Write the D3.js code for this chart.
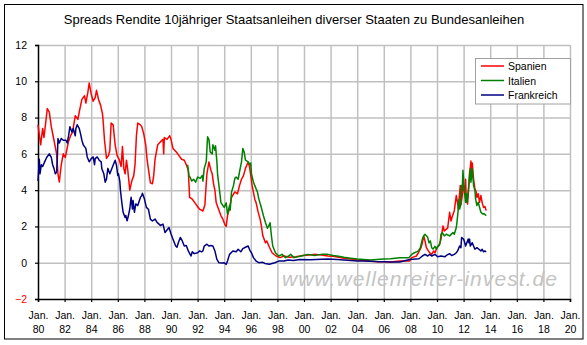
<!DOCTYPE html>
<html><head><meta charset="utf-8">
<script src="https://cdn.jsdelivr.net/npm/d3@7"></script>
<style>
html,body{margin:0;padding:0;background:#fff;}
svg text{font-family:"Liberation Sans",Arial,sans-serif;}
</style>
</head><body>
<svg id="chart" width="587" height="345"></svg>
<script>
// ---------- DATA (decimal year, spread in %-points) ----------
const title = "Spreads Rendite 10jähriger Staatsanleihen diverser Staaten zu Bundesanleihen";
const seriesNames = ["Spanien", "Italien", "Frankreich"];
const seriesColors = ["#ff0000", "#008000", "#000080"];
const xTickYears = [1980,1982,1984,1986,1988,1990,1992,1994,1996,1998,2000,2002,2004,2006,2008,2010,2012,2014,2016,2018,2020];
const xTickMonth = "Jan.";
const yTickValues = [-2,0,2,4,6,8,10,12];
const watermark = "www.wellenreiter-invest.de";

const spanien = [
[1980.0,7.6],[1980.2,6.5],[1980.35,7.4],[1980.45,6.9],[1980.7,8.5],[1980.85,8.3],[1981.0,7.5],[1981.2,6.75],[1981.4,6.0],[1981.5,4.9],[1981.6,4.45],[1981.75,5.4],[1981.9,6.0],[1982.05,5.8],[1982.3,6.7],[1982.45,7.0],[1982.6,7.2],[1982.8,8.1],[1983.0,7.9],[1983.1,8.3],[1983.3,9.0],[1983.5,9.2],[1983.6,8.8],[1983.75,9.4],[1983.85,9.9],[1984.0,9.3],[1984.15,8.9],[1984.3,9.1],[1984.4,9.5],[1984.55,9.0],[1984.7,8.7],[1984.85,8.2],[1984.9,7.8],[1985.0,6.75],[1985.15,5.75],[1985.3,5.9],[1985.4,6.2],[1985.5,7.7],[1985.65,7.6],[1985.8,6.5],[1985.95,5.9],[1986.1,5.7],[1986.25,5.3],[1986.35,6.4],[1986.45,5.2],[1986.55,4.9],[1986.65,5.65],[1986.75,5.1],[1986.9,4.0],[1987.05,4.5],[1987.2,4.8],[1987.3,5.45],[1987.4,7.0],[1987.5,7.7],[1987.7,7.6],[1987.8,7.5],[1987.95,7.1],[1988.1,6.5],[1988.2,5.7],[1988.45,4.4],[1988.6,4.35],[1988.7,4.8],[1988.8,5.7],[1989.0,6.5],[1989.25,6.7],[1989.4,6.8],[1989.45,6.0],[1989.5,6.9],[1989.7,6.8],[1989.9,7.0],[1990.0,6.8],[1990.15,6.3],[1990.4,6.1],[1990.6,5.9],[1990.8,5.7],[1991.0,5.65],[1991.15,5.4],[1991.3,5.1],[1991.4,3.6],[1991.6,3.5],[1991.8,3.3],[1992.0,3.1],[1992.15,2.95],[1992.4,2.85],[1992.55,3.2],[1992.6,3.8],[1992.7,4.9],[1992.85,5.55],[1993.0,5.1],[1993.1,4.9],[1993.2,4.35],[1993.3,4.0],[1993.4,3.3],[1993.6,2.9],[1993.75,2.6],[1993.9,2.4],[1994.05,2.1],[1994.15,2.0],[1994.25,2.6],[1994.4,3.0],[1994.55,3.6],[1994.8,3.9],[1995.0,3.8],[1995.15,4.25],[1995.3,4.6],[1995.45,4.8],[1995.6,5.2],[1995.8,5.55],[1995.9,5.3],[1996.0,4.8],[1996.1,4.25],[1996.3,3.5],[1996.4,3.3],[1996.55,2.8],[1996.7,2.4],[1996.8,2.0],[1996.9,1.5],[1997.1,1.1],[1997.2,1.2],[1997.4,0.85],[1997.6,0.55],[1997.9,0.37],[1998.2,0.28],[1998.5,0.37],[1998.9,0.3],[1999.4,0.33],[1999.9,0.4],[2000.4,0.42],[2000.9,0.46],[2001.3,0.42],[2001.8,0.37],[2002.2,0.35],[2002.6,0.3],[2003.0,0.25],[2003.5,0.2],[2004.0,0.15],[2004.5,0.12],[2005.0,0.08],[2005.5,0.05],[2006.0,0.05],[2006.5,0.04],[2007.2,0.09],[2007.95,0.1],[2008.1,0.28],[2008.45,0.37],[2008.6,0.55],[2008.8,0.83],[2008.9,1.1],[2009.0,1.48],[2009.1,1.2],[2009.2,0.83],[2009.35,0.65],[2009.45,0.55],[2009.6,0.46],[2009.75,0.65],[2009.85,0.55],[2010.0,0.83],[2010.15,0.95],[2010.3,1.3],[2010.45,2.03],[2010.55,1.75],[2010.7,1.85],[2010.8,1.9],[2010.95,2.78],[2011.05,2.3],[2011.15,2.55],[2011.3,2.87],[2011.45,3.7],[2011.55,3.3],[2011.6,2.96],[2011.75,4.26],[2011.8,3.2],[2011.9,3.7],[2012.0,4.26],[2012.1,3.8],[2012.15,4.6],[2012.2,3.5],[2012.3,3.24],[2012.4,4.26],[2012.45,5.0],[2012.5,5.2],[2012.55,5.6],[2012.6,4.8],[2012.65,5.5],[2012.75,4.6],[2012.85,4.07],[2012.95,3.9],[2013.0,3.6],[2013.1,3.8],[2013.2,3.33],[2013.3,3.7],[2013.4,3.3],[2013.5,3.05],[2013.6,3.1],[2013.7,2.87]
];

const italien = [
[1991.25,5.4],[1991.35,4.8],[1991.45,4.7],[1991.55,4.5],[1991.7,4.6],[1991.85,4.44],[1992.0,4.72],[1992.2,4.65],[1992.35,4.81],[1992.4,4.5],[1992.5,5.2],[1992.65,5.56],[1992.75,6.94],[1992.85,6.8],[1992.95,6.1],[1993.1,6.0],[1993.15,6.5],[1993.3,6.2],[1993.35,6.45],[1993.45,5.56],[1993.5,4.9],[1993.65,3.98],[1993.75,3.33],[1993.9,3.15],[1994.0,3.05],[1994.15,3.3],[1994.25,2.68],[1994.4,3.15],[1994.45,2.9],[1994.55,3.89],[1994.7,4.26],[1994.8,4.65],[1994.9,4.72],[1995.05,4.6],[1995.15,5.0],[1995.3,5.56],[1995.4,6.3],[1995.5,6.1],[1995.6,5.65],[1995.8,5.56],[1995.95,5.4],[1996.0,5.5],[1996.05,4.9],[1996.2,4.44],[1996.4,4.07],[1996.5,3.9],[1996.6,3.52],[1996.75,3.15],[1996.95,2.59],[1997.1,2.22],[1997.25,1.9],[1997.35,2.03],[1997.45,2.2],[1997.55,1.48],[1997.65,0.92],[1997.85,0.55],[1998.1,0.37],[1998.35,0.46],[1998.6,0.28],[1998.85,0.37],[1999.0,0.46],[1999.25,0.28],[1999.8,0.37],[2000.3,0.46],[2000.8,0.4],[2001.3,0.46],[2001.8,0.46],[2002.2,0.4],[2002.6,0.35],[2003.0,0.3],[2003.5,0.25],[2004.0,0.2],[2004.5,0.18],[2005.0,0.15],[2005.5,0.18],[2006.0,0.2],[2006.5,0.22],[2007.2,0.28],[2007.9,0.28],[2008.1,0.46],[2008.3,0.55],[2008.45,0.6],[2008.6,0.65],[2008.75,0.83],[2008.9,1.3],[2009.0,1.48],[2009.1,1.57],[2009.2,1.48],[2009.3,1.4],[2009.4,1.1],[2009.5,1.2],[2009.6,0.83],[2009.7,0.75],[2009.85,0.9],[2009.95,0.75],[2010.05,0.9],[2010.2,1.0],[2010.25,1.2],[2010.3,1.57],[2010.4,1.66],[2010.55,1.48],[2010.7,1.57],[2010.95,1.48],[2011.2,1.66],[2011.3,1.57],[2011.45,1.94],[2011.5,2.22],[2011.6,2.96],[2011.65,3.5],[2011.7,2.96],[2011.8,3.24],[2011.85,4.26],[2011.9,4.0],[2011.95,5.09],[2012.05,4.0],[2012.15,3.33],[2012.2,3.8],[2012.25,3.33],[2012.35,3.98],[2012.45,4.81],[2012.5,5.18],[2012.55,4.44],[2012.65,5.18],[2012.75,4.26],[2012.85,3.98],[2012.9,3.52],[2013.0,3.15],[2013.1,3.33],[2013.2,3.05],[2013.3,2.78],[2013.45,2.68],[2013.55,2.7],[2013.7,2.59]
];

const frankreich = [
[1980.0,4.5],[1980.1,5.7],[1980.15,4.9],[1980.25,5.4],[1980.35,5.3],[1980.5,5.56],[1980.65,5.8],[1980.85,6.0],[1981.0,5.8],[1981.1,5.4],[1981.2,5.2],[1981.3,4.9],[1981.4,5.0],[1981.45,5.7],[1981.5,6.85],[1981.6,6.6],[1981.75,6.85],[1981.9,6.75],[1982.1,6.75],[1982.2,6.6],[1982.3,7.0],[1982.4,7.5],[1982.55,7.2],[1982.65,7.4],[1982.8,7.0],[1982.85,7.4],[1982.95,7.6],[1983.1,7.4],[1983.2,7.1],[1983.3,6.75],[1983.4,6.5],[1983.5,6.4],[1983.6,6.3],[1983.7,5.83],[1983.85,5.56],[1984.0,5.74],[1984.15,5.83],[1984.25,5.4],[1984.3,5.74],[1984.45,5.83],[1984.6,5.65],[1984.75,5.56],[1984.8,5.18],[1984.95,4.9],[1985.05,4.44],[1985.15,4.6],[1985.25,5.2],[1985.4,4.9],[1985.5,5.1],[1985.65,5.37],[1985.8,5.65],[1985.9,5.37],[1986.0,4.81],[1986.05,4.9],[1986.15,4.5],[1986.2,3.98],[1986.3,3.33],[1986.4,2.78],[1986.55,2.5],[1986.6,2.6],[1986.7,2.31],[1986.8,2.6],[1986.9,2.96],[1987.0,3.61],[1987.1,2.96],[1987.15,3.43],[1987.25,2.78],[1987.35,3.24],[1987.5,3.15],[1987.7,3.6],[1987.8,3.7],[1987.85,3.83],[1988.0,3.52],[1988.15,3.05],[1988.3,2.95],[1988.45,2.4],[1988.6,2.3],[1988.8,2.41],[1988.95,2.22],[1989.1,2.13],[1989.2,2.05],[1989.4,2.13],[1989.55,1.66],[1989.7,1.8],[1989.85,1.94],[1990.0,1.6],[1990.1,1.39],[1990.35,0.92],[1990.45,0.85],[1990.55,1.1],[1990.7,1.39],[1990.85,1.2],[1991.0,0.92],[1991.15,0.95],[1991.3,0.65],[1991.5,0.37],[1991.6,0.6],[1991.75,0.5],[1992.0,0.55],[1992.15,0.65],[1992.3,0.6],[1992.4,0.65],[1992.5,0.92],[1992.7,1.02],[1992.85,0.92],[1993.0,0.95],[1993.15,0.92],[1993.3,0.65],[1993.45,0.18],[1993.6,0.0],[1993.85,-0.02],[1994.0,0.0],[1994.15,-0.09],[1994.25,0.09],[1994.4,0.46],[1994.65,0.65],[1994.9,0.6],[1995.05,0.74],[1995.25,0.6],[1995.4,0.78],[1995.6,0.85],[1995.8,0.92],[1995.95,0.65],[1996.05,0.55],[1996.2,0.28],[1996.4,0.09],[1996.6,0.0],[1996.9,0.02],[1997.05,-0.04],[1997.4,-0.08],[1997.8,0.0],[1998.1,0.09],[1998.5,0.09],[1998.8,0.15],[1999.2,0.12],[1999.7,0.18],[2000.5,0.16],[2000.9,0.18],[2001.8,0.2],[2002.5,0.18],[2003.0,0.15],[2003.5,0.12],[2004.0,0.1],[2004.5,0.1],[2005.0,0.08],[2005.5,0.06],[2006.0,0.05],[2006.5,0.04],[2007.2,0.04],[2007.95,0.18],[2008.65,0.22],[2008.9,0.37],[2009.1,0.46],[2009.3,0.37],[2009.45,0.46],[2009.6,0.37],[2009.85,0.46],[2010.05,0.33],[2010.3,0.37],[2010.6,0.33],[2010.7,0.4],[2010.85,0.46],[2010.95,0.5],[2011.1,0.4],[2011.3,0.46],[2011.45,0.55],[2011.55,0.65],[2011.7,0.92],[2011.8,0.83],[2011.85,1.39],[2012.0,1.3],[2012.05,1.2],[2012.15,0.92],[2012.35,1.3],[2012.4,1.1],[2012.45,1.3],[2012.5,0.92],[2012.65,1.1],[2012.75,0.92],[2012.85,0.74],[2013.0,0.83],[2013.15,0.74],[2013.3,0.65],[2013.4,0.74],[2013.5,0.6],[2013.6,0.65],[2013.7,0.6]
];

// ---------- CHART ----------
const svg = d3.select("#chart");
const W = 587, H = 345;
const plot = {left: 38, right: 570, top: 45, bottom: 299};

svg.append("rect").attr("x",0).attr("y",0).attr("width",W).attr("height",H).attr("fill","#fff");
svg.append("rect").attr("x",4.5).attr("y",4.5).attr("width",578.5).attr("height",334.5)
  .attr("fill","none").attr("stroke","#000").attr("stroke-width",1);

const x = d3.scaleLinear().domain([1980, 2020]).range([plot.left, plot.right]);
const y = d3.scaleLinear().domain([-2, 12]).range([plot.bottom, plot.top]);

// grid
svg.append("g").attr("transform",`translate(0,${plot.bottom})`)
  .call(d3.axisBottom(x).tickValues(xTickYears.filter(v=>v>1980)).tickSize(-(plot.bottom-plot.top)).tickFormat(""))
  .call(g=>{g.select(".domain").remove(); g.selectAll("line").attr("stroke","#c0c0c0").attr("stroke-width",1.5);});
svg.append("g").attr("transform",`translate(${plot.left},0)`)
  .call(d3.axisLeft(y).tickValues(yTickValues.filter(v=>v>-2)).tickSize(-(plot.right-plot.left)).tickFormat(""))
  .call(g=>{g.select(".domain").remove(); g.selectAll("line").attr("stroke","#c0c0c0").attr("stroke-width",1.5);});

// watermark
svg.append("text").attr("x",282).attr("y",286)
  .attr("textLength",275).attr("lengthAdjust","spacing")
  .style("font-family","'Liberation Sans',Arial,sans-serif").style("font-style","italic")
  .style("font-size","21px").attr("fill","#c4c4c4").text(watermark);

// axes
const xAxis = svg.append("g").attr("transform",`translate(0,${plot.bottom})`)
  .call(d3.axisBottom(x).tickValues(xTickYears).tickSize(3).tickFormat(""));
xAxis.select(".domain").attr("stroke","#000").attr("stroke-width",1.5);
xAxis.selectAll(".tick line").attr("stroke","#000").attr("stroke-width",1.2);
xAxis.selectAll(".tick").each(function(d){
  const g = d3.select(this);
  g.append("text").attr("y",20).attr("text-anchor","middle").attr("fill","#000")
    .style("font-size","10.5px").text(xTickMonth);
  g.append("text").attr("y",34).attr("text-anchor","middle").attr("fill","#000")
    .style("font-size","10.5px").text(String(d%100).padStart(2,"0"));
});

const yAxis = svg.append("g").attr("transform",`translate(${plot.left},0)`)
  .call(d3.axisLeft(y).tickValues(yTickValues).tickSize(3).tickPadding(8));
yAxis.select(".domain").attr("stroke","#000").attr("stroke-width",1.5);
yAxis.selectAll(".tick line").attr("stroke","#000").attr("stroke-width",1.2);
yAxis.selectAll(".tick text").attr("fill", d => d < 0 ? "#ff0000" : "#000")
  .style("font-size","10.5px").style("font-family","'Liberation Sans',Arial,sans-serif");

// lines
const line = d3.line().x(d=>x(d[0])).y(d=>y(d[1]));
[spanien, italien, frankreich].forEach((s,i)=>{
  svg.append("path").datum(s).attr("d",line).attr("fill","none")
    .attr("stroke",seriesColors[i]).attr("stroke-width",1.5).attr("stroke-linejoin","round");
});

// title
svg.append("text").attr("x",294).attr("y",24).attr("text-anchor","middle")
  .style("font-size","13px").attr("fill","#000").text(title);

// legend
const lg = svg.append("g");
lg.append("rect").attr("x",475.5).attr("y",58.5).attr("width",95).attr("height",45.5)
  .attr("fill","#fff").attr("stroke","#a0a0a0").attr("stroke-width",1);
const legendY = d3.scalePoint().domain(seriesNames).range([66, 95]);
seriesNames.forEach((n,i)=>{
  const yy = legendY(n);
  lg.append("line").attr("x1",481).attr("x2",504).attr("y1",yy).attr("y2",yy)
    .attr("stroke",seriesColors[i]).attr("stroke-width",1.5);
  lg.append("text").attr("x",508).attr("y",yy+4).style("font-size","10.5px").attr("fill","#000").text(n);
});
</script>
</body></html>
